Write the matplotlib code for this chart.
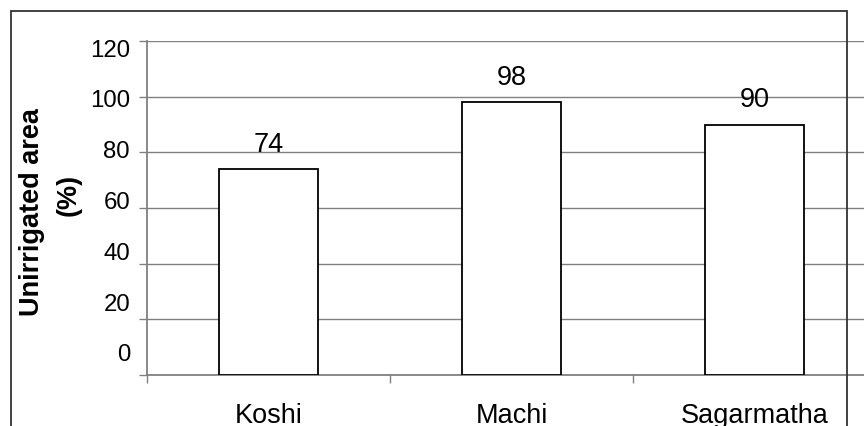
import matplotlib.pyplot as plt
from matplotlib.patches import Rectangle

plt.rcParams['font.family'] = ['Liberation Sans', 'DejaVu Sans']

# district data
districts = ['Koshi', 'Machi', 'Sagarmatha']
unirrigated_pct = [74, 98, 90]
y_ticks = [0, 20, 40, 60, 80, 100, 120]

fig = plt.figure(figsize=(8.64, 4.27), dpi=100)
ax = fig.add_axes([0.1701, 0.1194, 0.8438, 0.7822])

grey = '#808080'
xs = range(len(districts))
bars = ax.bar(xs, unirrigated_pct, width=0.407, color='white',
              edgecolor='black', linewidth=1.3, zorder=3)

for x, v in zip(xs, unirrigated_pct):
    ax.annotate(str(v), (x, v), xytext=(0, 13.3), textcoords='offset points',
                ha='center', va='baseline', fontsize=19.5, zorder=4)

ax.set_xlim(-0.5, 2.5)
ax.set_ylim(0, 120)

# gridlines + y ticks (labels drawn on a separate axis below)
ax.set_yticks(y_ticks)
ax.set_yticklabels([])
ax.yaxis.grid(True, color=grey, linewidth=1.0, zorder=0)
ax.tick_params(axis='y', direction='out', length=5.8, width=1.0, color=grey)

# category labels at centres, tick marks between categories
ax.set_xticks(list(xs))
ax.set_xticklabels(districts, fontsize=19.5)
ax.tick_params(axis='x', which='major', length=0, pad=19.5)
ax.set_xticks([-0.5, 0.5, 1.5, 2.5], minor=True)
ax.tick_params(axis='x', which='minor', direction='out', length=5.8,
               width=1.0, color=grey)

for side in ['top', 'right']:
    ax.spines[side].set_visible(False)
for side in ['left', 'bottom']:
    ax.spines[side].set_color(grey)
    ax.spines[side].set_linewidth(1.3)

# value axis labels sit on a slightly compressed scale
ax_lab = ax.twinx()
ax_lab.set_ylim(-9.1, 122.4)
ax_lab.yaxis.tick_left()
ax_lab.set_yticks(y_ticks)
ax_lab.set_yticklabels([str(t) for t in y_ticks], fontsize=17.3)
ax_lab.tick_params(axis='y', length=0, pad=12.2)
for s in ax_lab.spines.values():
    s.set_visible(False)

fig.text(32.5 / 864, 1 - 212 / 427, 'Unirrigated area', rotation=90,
         ha='center', va='center', fontsize=19.5, fontweight='bold')
fig.text(69 / 864, 1 - 195 / 427, '(%)', rotation=90,
         ha='center', va='center', fontsize=19.5, fontweight='bold')

# chart frame
fig.patches.append(Rectangle((11 / 864, -0.2), (847 - 11) / 864, 1.2 - 12 / 427,
                             transform=fig.transFigure, fill=False,
                             edgecolor='#333333', linewidth=1.3))

fig.savefig('out.png', dpi=100)
